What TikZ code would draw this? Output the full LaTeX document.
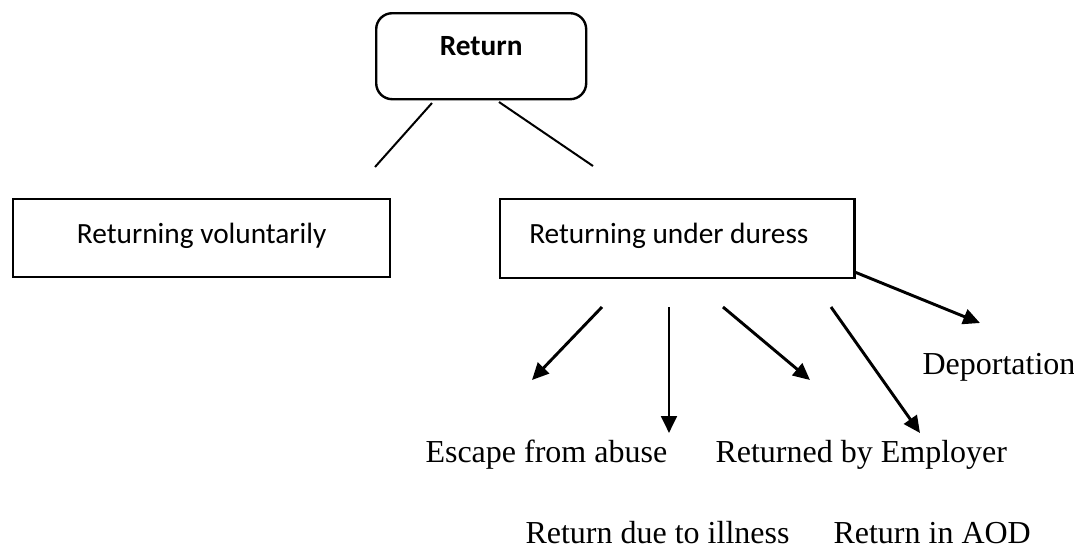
\documentclass[tikz,border=0pt]{standalone}
\usepackage{fontspec}
\setmainfont{Liberation Serif}
\newfontfamily\boxfont{Carlito}
\usetikzlibrary{arrows.meta}
\usetikzlibrary{positioning}

\begin{document}
\begin{tikzpicture}[x=0.375pt,y=-0.375pt,
  box/.style={draw,line width=0.9pt,inner sep=0pt,anchor=north west,font=\boxfont\fontsize{11}{13}\selectfont},
  lbl/.style={inner sep=0pt,anchor=base west,font=\fontsize{12}{14}\selectfont},
  arr/.style={-{Triangle[length=6.3pt,width=5.8pt]},line width=1.1pt}]
\useasboundingbox (0,0) rectangle (1074,552);

% boxes
\node[box,rounded corners=6pt,minimum width=78.75pt,text height=15.75pt,text depth=16.5pt,font=\boxfont\bfseries\fontsize{11}{13}\selectfont] (ret) at (375,12) {Return};
\node[box,minimum width=141.4pt,text height=16.5pt,text depth=12.75pt] (vol) at (12,198) {Returning voluntarily};
\node[box,inner xsep=10.9pt,text height=16.5pt,text depth=13.1pt] (dur) at (499,198) {\makebox[111pt][l]{Returning under duress}};

% outcomes
\node[lbl] (esc) at (425,462) {Escape from abuse};
\node[lbl] (emp) at (715,462) {Returned by Employer};
\node[lbl] (dep) at (922,374) {Deportation};
\node[lbl] (ill) at (525,543) {Return due to illness};
\node[lbl] (aod) at (833,543) {Return in AOD};

% connector ends
\coordinate (l1) at (432,103); \coordinate (l2) at (375,167);
\coordinate (r1) at (499,102); \coordinate (r2) at (593,166);
\coordinate (a1) at (602,307); \coordinate (b1) at (532,380);
\coordinate (a2) at (669,307); \coordinate (b2) at (669,433);
\coordinate (a3) at (723,307); \coordinate (b3) at (810,380);
\coordinate (a4) at (831,307); \coordinate (b4) at (920,433);
\coordinate (b5) at (980,323);

\draw[line width=0.75pt] (l1) -- (l2);
\draw[line width=0.75pt] (r1) -- (r2);
\draw[arr] (a1) -- (b1);
\draw[arr] (a2) -- (b2);
\draw[arr] (a3) -- (b3);
\draw[arr] (a4) -- (b4);
\draw[arr] (dur.south east) ++(0,-7) coordinate (a5) (a5) -- (b5);

\end{tikzpicture}
\end{document}
